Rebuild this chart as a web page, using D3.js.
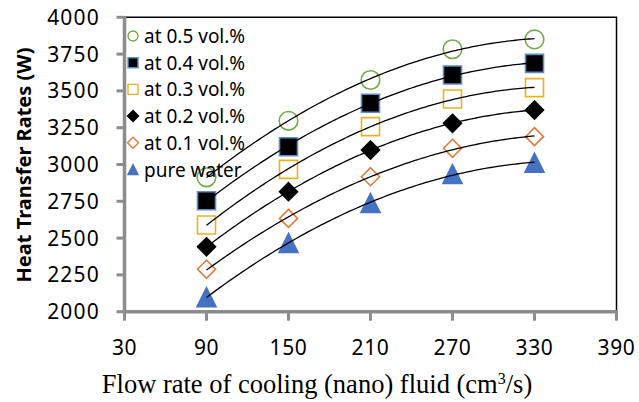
<!DOCTYPE html>
<html lang="en">
<head>
  <meta charset="UTF-8">
  <title>Heat Transfer Rates vs Flow Rate</title>
  <script src="https://d3js.org/d3.v7.min.js"></script>
  <style>
    body { margin: 0; background: #fff; }
    .tick-label { font-family: "Noto Sans", sans-serif; font-size: 21px; fill: #000; }
    .legend-label { font-family: "Noto Sans", sans-serif; font-size: 19px; fill: #000; }
    .x-title { font-family: "Liberation Serif", "Times New Roman", serif; font-size: 26.5px; }
    .y-title { font-family: "Noto Sans", sans-serif; font-size: 20px; font-weight: bold; }
  </style>
</head>
<body>
  <svg width="639" height="402"></svg>

  <script>
    // data
    const xTicks = [30, 90, 150, 210, 270, 330, 390];
    const yTicks = [2000, 2250, 2500, 2750, 3000, 3250, 3500, 3750, 4000];
    const flowRates = [90, 150, 210, 270, 330];

    const vol05 = [2913, 3297, 3574, 3783, 3850];
    const vol04 = [2754, 3121, 3416, 3608, 3687];
    const vol03 = [2589, 2967, 3257, 3445, 3522];
    const vol02 = [2441, 2815, 3098, 3280, 3370];
    const vol01 = [2288, 2634, 2917, 3110, 3189];
    const water = [2098, 2467, 2738, 2935, 3012];

    const series = [
      { name: "at 0.5 vol.%", values: vol05, shape: "circle",   fill: "none",    stroke: "#70AD47" },
      { name: "at 0.4 vol.%", values: vol04, shape: "square",   fill: "#000",    stroke: "#5B8FC9" },
      { name: "at 0.3 vol.%", values: vol03, shape: "square",   fill: "#fff",    stroke: "#EDB120" },
      { name: "at 0.2 vol.%", values: vol02, shape: "diamond",  fill: "#000",    stroke: "#000" },
      { name: "at 0.1 vol.%", values: vol01, shape: "diamond",  fill: "#fff",    stroke: "#E07B39" },
      { name: "pure water",   values: water, shape: "triangle", fill: "#4472C4", stroke: "#4472C4" }
    ];

    const svg = d3.select("svg");
    const x = d3.scaleLinear().domain([30, 390]).range([124.5, 616.5]);
    const y = d3.scaleLinear().domain([2000, 4000]).range([311.7, 17.3]);

    const shapePath = {
      circle: r => `M${r},0A${r},${r},0,1,1,${-r},0A${r},${r},0,1,1,${r},0Z`,
      square: r => `M${-r},${-r}h${2 * r}v${2 * r}h${-2 * r}Z`,
      diamond: r => `M0,${-r}L${r},0L0,${r}L${-r},0Z`,
      triangle: r => `M0,${-r}L${r},${r}L${-r},${r}Z`
    };

    // quadratic least squares, like the Excel trendline
    function polyFit(xs, ys) {
      let s = [0, 0, 0, 0, 0], t = [0, 0, 0];
      xs.forEach((xv, i) => {
        for (let k = 0; k < 5; k++) s[k] += Math.pow(xv, k);
        for (let k = 0; k < 3; k++) t[k] += ys[i] * Math.pow(xv, k);
      });
      const A = [[s[0], s[1], s[2], t[0]], [s[1], s[2], s[3], t[1]], [s[2], s[3], s[4], t[2]]];
      for (let i = 0; i < 3; i++) {
        for (let j = i + 1; j < 3; j++) {
          const f = A[j][i] / A[i][i];
          for (let k = i; k < 4; k++) A[j][k] -= f * A[i][k];
        }
      }
      const c = [0, 0, 0];
      for (let i = 2; i >= 0; i--) {
        let v = A[i][3];
        for (let k = i + 1; k < 3; k++) v -= A[i][k] * c[k];
        c[i] = v / A[i][i];
      }
      return xv => c[0] + c[1] * xv + c[2] * xv * xv;
    }

    // frame: top and right black lines
    svg.append("path")
      .attr("d", `M${x(30)},${y(4000)}H${x(390)}V${y(2000)}`)
      .attr("fill", "none").attr("stroke", "#000").attr("stroke-width", 1.5);

    // grey axes with outer ticks
    const axisCol = "#8c8c8c";
    svg.append("line").attr("x1", x(30)).attr("x2", x(30)).attr("y1", y(4000) - 1).attr("y2", y(2000) + 2)
      .attr("stroke", axisCol).attr("stroke-width", 3.5);
    svg.append("line").attr("x1", x(30) - 1.5).attr("x2", x(390) + 1.5).attr("y1", y(2000)).attr("y2", y(2000))
      .attr("stroke", axisCol).attr("stroke-width", 3.5);

    svg.selectAll(".ytick").data(yTicks).enter().append("line")
      .attr("x1", x(30) - 8).attr("x2", x(30)).attr("y1", d => y(d)).attr("y2", d => y(d))
      .attr("stroke", axisCol).attr("stroke-width", 3);
    svg.selectAll(".xtick").data(xTicks).enter().append("line")
      .attr("x1", d => x(d)).attr("x2", d => x(d)).attr("y1", y(2000)).attr("y2", y(2000) + 9)
      .attr("stroke", axisCol).attr("stroke-width", 3);

    svg.selectAll(".ylab").data(yTicks).enter().append("text")
      .attr("class", "tick-label").attr("text-anchor", "end")
      .attr("x", 100).attr("y", d => y(d) + 7.5).attr("letter-spacing", 1.2)
      .text(d => d);
    svg.selectAll(".xlab").data(xTicks).enter().append("text")
      .attr("class", "tick-label").attr("text-anchor", "middle")
      .attr("x", d => x(d)).attr("y", 355).attr("letter-spacing", 0.6)
      .text(d => d);

    // markers
    series.forEach(s => {
      svg.append("g").selectAll("path").data(flowRates).enter().append("path")
        .attr("transform", (d, i) => `translate(${x(d)},${y(s.values[i])})`)
        .attr("d", shapePath[s.shape](s.shape === "circle" ? 9.3 : s.shape === "triangle" ? 9.5 : 9))
        .attr("fill", s.fill).attr("stroke", s.stroke).attr("stroke-width", 1.6);
    });

    // trendlines on top
    const line = d3.line().x(d => x(d[0])).y(d => y(d[1]));
    series.forEach(s => {
      const f = polyFit(flowRates, s.values);
      const pts = d3.range(90, 330.1, 2).map(v => [v, f(v)]);
      svg.append("path").attr("d", line(pts))
        .attr("fill", "none").attr("stroke", "#000").attr("stroke-width", 1.3);
    });

    // legend
    const leg = svg.append("g");
    series.forEach((s, i) => {
      const ly = 36 + i * 26.7;
      leg.append("path")
        .attr("transform", `translate(133,${ly})`)
        .attr("d", shapePath[s.shape](s.shape === "diamond" ? 5.5 : 5))
        .attr("fill", s.fill).attr("stroke", s.stroke).attr("stroke-width", 1.4);
      leg.append("text").attr("class", "legend-label")
        .attr("x", 144).attr("y", ly + 7).text(s.name);
    });

    // axis titles
    const xt = svg.append("text").attr("class", "x-title")
      .attr("x", 317).attr("y", 393).attr("text-anchor", "middle");
    xt.append("tspan").text("Flow rate of cooling (nano) fluid (cm");
    xt.append("tspan").attr("dy", -9).attr("font-size", 16).text("3");
    xt.append("tspan").attr("dy", 9).text("/s)");

    svg.append("text").attr("class", "y-title")
      .attr("transform", "translate(31,165) rotate(-90)")
      .attr("text-anchor", "middle")
      .text("Heat Transfer Rates (W)");
  </script>
</body>
</html>
